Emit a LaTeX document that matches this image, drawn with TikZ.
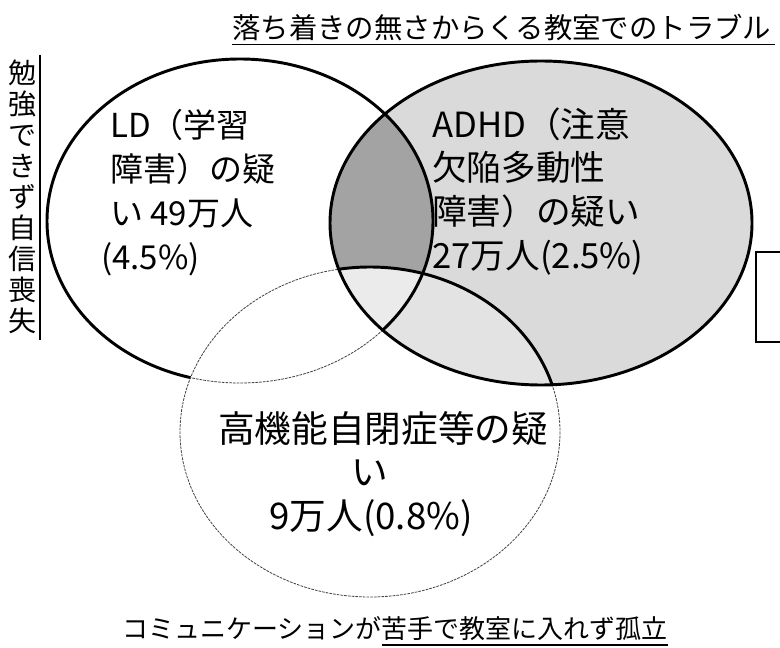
\documentclass[tikz,border=0pt]{standalone}
\usepackage{fontspec}
\setmainfont{Noto Sans CJK JP}
\begin{document}
\begin{tikzpicture}[x=0.75pt,y=-0.75pt,
  thickline/.style={line width=2.2pt,black},
  thinline/.style={line width=0.6pt,black!75,dash pattern=on 2pt off 0.8pt},
  ldr/.style={x radius=193,y radius=162},
  adr/.style={x radius=211,y radius=162},
  aur/.style={x radius=190,y radius=165},
  ldtxt/.style={inner sep=0,anchor=base west,font=\fontsize{24.75}{30}\selectfont},
  adtxt/.style={inner sep=0,anchor=base west,font=\fontsize{26}{30}\selectfont},
  autxt/.style={inner sep=0,anchor=base,font=\fontsize{27.5}{30}\selectfont},
  toptxt/.style={inner sep=0,anchor=base west,font=\fontsize{21.3}{26}\selectfont},
  bottxt/.style={inner sep=0,anchor=base west,font=\fontsize{19.5}{24}\selectfont},
  sidetxt/.style={inner sep=0,align=center,font=\fontsize{21}{23.2}\selectfont}]
\useasboundingbox (0,0) rectangle (780,648);
\coordinate (cLD) at (240,221);
\coordinate (cAD) at (541,223);
\coordinate (cAU) at (370,432);

% LD outline (thick), then autism area whitened
\draw[thickline] (cLD) ellipse [ldr];
\fill[white] (cAU) ellipse [aur];

% shaded regions inside ADHD
\begin{scope}
  \clip (cAD) ellipse [adr];
  \fill[gray!29] (cAD) ellipse [adr];
  \fill[gray!22] (cAU) ellipse [aur];
  \begin{scope}
    \clip (cLD) ellipse [ldr];
    \fill[gray!72] (cLD) ellipse [ldr];
    \fill[gray!16] (cAU) ellipse [aur];
  \end{scope}
\end{scope}

% thin dashed lines
\begin{scope}
  \clip (cAU) ellipse [aur];
  \draw[thinline] (cLD) ellipse [ldr];
\end{scope}
\draw[thinline] (cAU) ellipse [aur];

% thick lines inside ADHD
\begin{scope}
  \clip (cAD) ellipse [adr];
  \draw[thickline] (cLD) ellipse [ldr];
  \draw[thickline] (cAU) ellipse [aur];
\end{scope}
\draw[thickline] (cAD) ellipse [adr];

% partial box at right edge
\draw[line width=1.5pt] (790,252) -| (756,342) -- (790,342);

% LD text
\node[ldtxt] (ld1) at (110,137.5) {LD（学習};
\node[ldtxt] (ld2) at (110,181.5) {障害）の疑};
\node[ldtxt] (ld3) at (110,225.5) {い 49万人};
\node[ldtxt] (ld4) at (101,269.5) {(4.5\%)};

% ADHD text
\node[adtxt] (ad1) at (432,138) {ADHD（注意};
\node[adtxt] (ad2) at (432,181) {欠陥多動性};
\node[adtxt] (ad3) at (432,225) {障害）の疑い};
\node[adtxt] (ad4) at (432,268) {27万人(2.5\%)};

% autism text
\node[autxt] (au1) at (383,442) {高機能自閉症等の疑};
\node[autxt] (au2) at (370,485) {い};
\node[autxt] (au3) at (371,529) {9万人(0.8\%)};

% top label
\node[toptxt] (top) at (232,39) {落ち着きの無さからくる教室でのトラブル};
\draw[line width=0.9pt] (232,44.5) -- (775,44.5);

% bottom label
\node[bottxt] (bot) at (122,638) {コミュニケーションが苦手で教室に入れず孤立};
\draw[line width=0.9pt] (382,645) -- (668,645);

% left vertical label
\node[sidetxt] (side) at (22,197) {勉\\強\\で\\き\\ず\\自\\信\\喪\\失};
\draw[line width=0.8pt] (40,55) -- (40,340);
\end{tikzpicture}
\end{document}
